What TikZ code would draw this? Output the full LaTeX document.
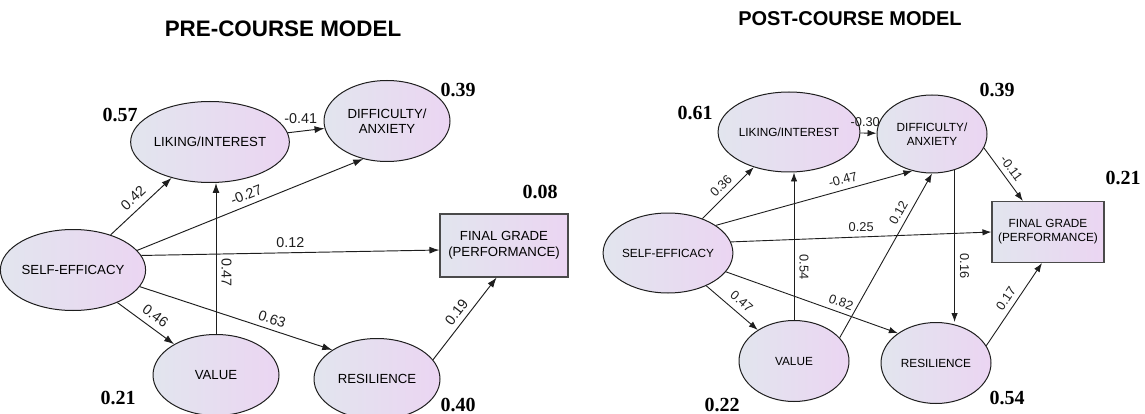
\documentclass[tikz,border=0pt]{standalone}
\usepackage{fontspec}
\setmainfont{Liberation Sans}
\newfontfamily\rsqfont{Liberation Serif}
\usepackage{tikz}
\usetikzlibrary{arrows.meta,shapes.geometric}
\definecolor{ink}{HTML}{1E1E1E}
\definecolor{frame}{HTML}{4A4A4A}
\definecolor{shadel}{HTML}{E2E5EE}
\definecolor{shader}{HTML}{EBD5F2}

\begin{document}
\begin{tikzpicture}[x=1pt,y=-1pt,
  latent/.style={ellipse,draw=ink,line width=1pt,left color=shadel,right color=shader,
                 inner sep=0pt,align=center},
  obs/.style={rectangle,draw=frame,line width=1.1pt,left color=shadel,right color=shader,
              inner sep=0pt,align=center},
  pre/.style={font=\fontsize{13.2}{15.5}\selectfont,minimum width=126pt,minimum height=81pt},
  post/.style={font=\fontsize{11.8}{14}\selectfont,minimum width=110pt,minimum height=80pt},
  eff/.style={-{Latex[length=10pt,width=7pt]},line width=0.95pt,ink},
  efftwo/.style={-{Latex[length=9pt,width=6.5pt]},line width=0.9pt,ink},
  coef/.style={font=\fontsize{14.3}{16}\selectfont,inner sep=2pt,text=ink},
  coeftwo/.style={font=\fontsize{12.8}{14}\selectfont,inner sep=2pt,text=ink},
  down/.style={rotate=-90,anchor=south,inner sep=5pt},
  rsq/.style={font=\rsqfont\bfseries\fontsize{20}{22}\selectfont,inner sep=0pt},
]
\useasboundingbox (0,0) rectangle (1145,414);

% pre-course model
\node[font=\bfseries\fontsize{22.4}{24}\selectfont] (tpre) at (283,29) {PRE-COURSE MODEL};
\node[latent,pre] (se) at (73,270)  {SELF-EFFICACY};
\node[latent,pre] (li) at (210,142) {LIKING/INTEREST};
\node[latent,pre] (da) at (387,121) {DIFFICULTY/\\ANXIETY};
\node[latent,pre] (va) at (216,375) {VALUE};
\node[latent,pre] (re) at (377,379) {RESILIENCE};
\node[obs,pre,minimum width=128pt,minimum height=63pt] (fg) at (504,245.5)
  {FINAL GRADE\\(PERFORMANCE)};

\draw[eff] (se) -- node[coef,sloped,above=4pt] {0.42} (li);
\draw[eff] (se.17) -- node[coef,sloped,above=3pt,pos=.5] {-0.27} (da.238);
\draw[eff] (se.12) -- node[coef,above=3pt] {0.12} (fg.184);
\draw[eff] (se) -- node[coef,sloped,above=4pt,pos=.55] {0.46} (va);
\draw[eff] (se.-14) -- node[coef,sloped,above=3pt,pos=.67] {0.63} (re.147);
\draw[eff] (va.north) -- node[coef,down,pos=.41] {0.47} (va.north |- li.south);
\draw[eff] (li) -- node[coef,above=5pt,pos=.35] {-0.41} (da);
\draw[eff] (re.19) -- node[coef,sloped,above=3pt] {0.19} (fg.-103);

\node[rsq] (rli) at (120,115) {0.57};
\node[rsq] (rda) at (458,90)  {0.39};
\node[rsq] (rfg) at (540,192) {0.08};
\node[rsq] (rva) at (118,398) {0.21};
\node[rsq] (rre) at (458,405) {0.40};

% post-course model
\node[font=\bfseries\fontsize{20}{22}\selectfont] (tpost) at (850,19) {POST-COURSE MODEL};
\node[latent,post] (setwo) at (668,253) {SELF-EFFICACY};
\node[latent,post] (litwo) at (789,132) {LIKING/INTEREST};
\node[latent,post,minimum height=78pt] (datwo) at (932,134) {DIFFICULTY/\\ANXIETY};
\node[latent,post,minimum height=81pt] (vatwo) at (794,361) {VALUE};
\node[latent,post,minimum height=81pt] (retwo) at (936,363) {RESILIENCE};
\node[obs,post,minimum width=112pt,minimum height=61pt] (fgtwo) at (1048,232)
  {FINAL GRADE\\(PERFORMANCE)};

\draw[efftwo] (setwo) -- node[coeftwo,sloped,above=3pt] {0.36} (litwo);
\draw[efftwo] (setwo.30) -- node[coeftwo,sloped,above=3pt,pos=.66] {-0.47} (datwo.242);
\draw[efftwo] (setwo.10) -- node[coeftwo,above=3pt] {0.25} (fgtwo.west);
\draw[efftwo] (setwo) -- node[coeftwo,sloped,above=4pt,pos=.55] {0.47} (vatwo);
\draw[efftwo] (setwo.-18) -- node[coeftwo,sloped,above=3pt,pos=.65] {0.82} (retwo.142);
\draw[efftwo] (vatwo.north) -- node[coeftwo,down,pos=.36] {0.54} (vatwo.north |- litwo.south);
\draw[efftwo] (vatwo.27) -- node[coeftwo,sloped,above=3pt,pos=.73] {0.12} (datwo.south);
\draw[efftwo] (litwo) -- node[coeftwo,above=4pt,pos=.3] {-0.30} (datwo);
\draw[efftwo] (datwo.-15) -- node[coeftwo,sloped,above=3pt] {-0.11} (fgtwo.129);
\draw[efftwo] (datwo.-58) -- node[coeftwo,down,pos=.63] {0.16} (datwo.-58 |- retwo.north);
\draw[efftwo] (retwo.19) -- node[coeftwo,sloped,above=3pt] {0.17} (fgtwo.-101);

\node[rsq] (rlitwo) at (695,113)  {0.61};
\node[rsq] (rdatwo) at (997,90)   {0.39};
\node[rsq] (rfgtwo) at (1123,178) {0.21};
\node[rsq] (rvatwo) at (722,405)  {0.22};
\node[rsq] (rretwo) at (1007,398) {0.54};
\end{tikzpicture}
\end{document}
